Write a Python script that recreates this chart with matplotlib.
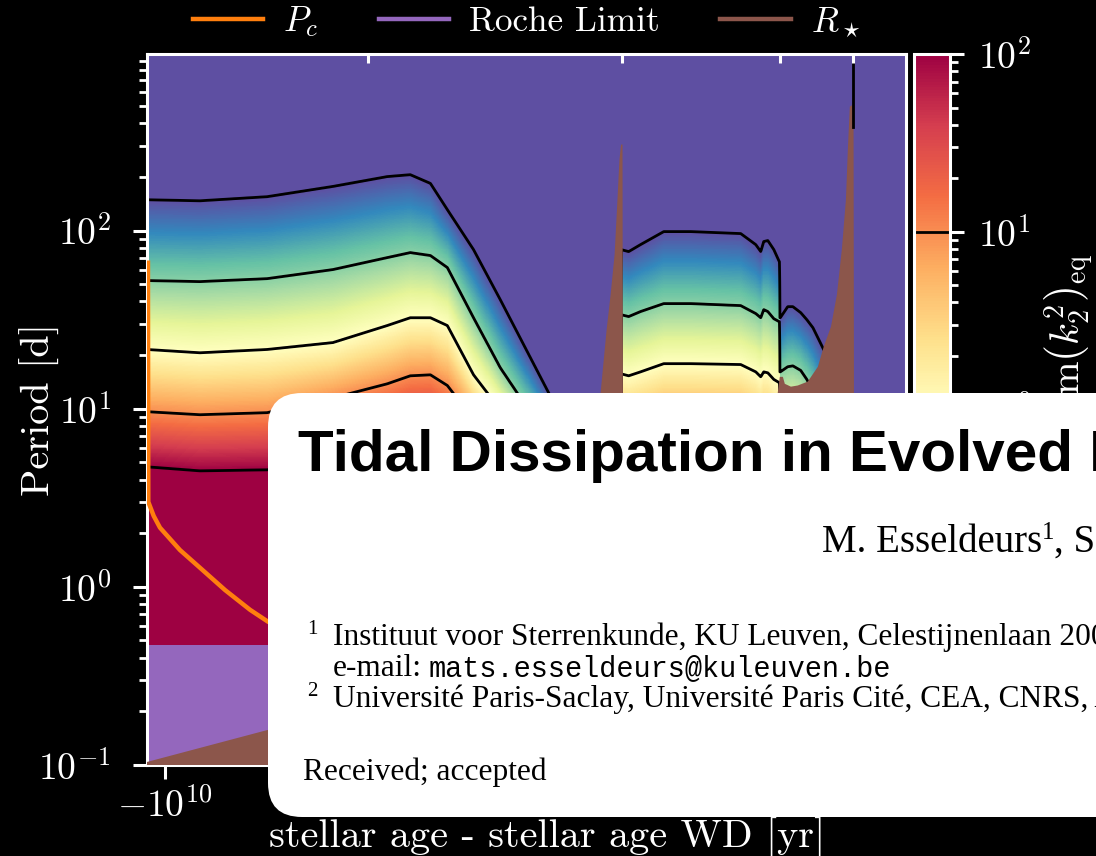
import numpy as np
import matplotlib
matplotlib.use("Agg")
import matplotlib.pyplot as plt
from matplotlib.colors import LogNorm
from matplotlib.lines import Line2D
from matplotlib.patches import FancyBboxPatch
from matplotlib.transforms import IdentityTransform
from matplotlib.ticker import FixedLocator, NullLocator

# ------------------------------------------------------------------
# Time before white-dwarf formation [yr] and orbital periods [d]
# ------------------------------------------------------------------
# log10 of Im(k2^2)/Im(k2^2)_eq along which the contours are drawn
ratio_levels = [-2, -1, 0, 1, 2]

# Main sequence / red-giant branch: period [d] where the ratio reaches each level
age_ms = [1.25e10, 6.47e9, 2.81e9, 1.24e9, 6.31e8, 4.74e8, 3.69e8, 2.99e8,
          2.16e8, 1.55e8, 8.5e7, 4.45e7]
p_ms_lvl_m2 = [149, 147, 155, 177, 201, 206, 184, 131, 78.2, 41.0, 12.3, 3.51]
p_ms_lvl_m1 = [52.4, 51.7, 53.7, 60.4, 70.5, 75.2, 72.4, 62.0, 32.4, 17.0, 6.70, 2.38]
p_ms_lvl_0 = [21.5, 20.6, 21.5, 23.5, 29.3, 32.4, 32.4, 29.3, 15.5, 9.87, 3.99, 1.42]
p_ms_lvl_p1 = [9.62, 9.25, 9.50, 11.5, 13.8, 15.3, 15.5, 13.5, 8.68, 5.17, 2.38, 0.845]
p_ms_lvl_p2 = [4.72, 4.48, 4.54, 5.17, 6.28, 6.96, 6.96, 5.88, 3.99, 2.71, 1.25, 0.443]

# Core helium burning
age_hb = [3.45e7, 3.14e7, 2.71e7, 2.03e7, 1.45e7, 7.80e6, 6.47e6, 6.08e6,
          5.86e6, 5.57e6, 5.17e6, 4.83e6]
p_hb_lvl_m2 = [78.2, 76.2, 83.4, 98.7, 98.7, 96.2, 83.4, 76.2, 86.8, 87.9, 78.2, 66.9]
p_hb_lvl_m1 = [33.7, 32.9, 35.1, 38.9, 38.9, 37.9, 34.2, 32.4, 36.0, 35.1, 32.0, 30.8]
p_hb_lvl_0 = [15.7, 15.3, 16.1, 17.9, 17.9, 17.7, 16.1, 15.1, 16.1, 15.9, 14.6, 14.0]
p_hb_lvl_p1 = [7.43, 7.24, 7.62, 8.45, 8.45, 8.34, 7.62, 7.14, 7.62, 7.52, 6.87, 6.61]
p_hb_lvl_p2 = [3.42, 3.33, 3.51, 3.89, 3.89, 3.84, 3.51, 3.29, 3.51, 3.46, 3.16, 3.04]

# Asymptotic giant branch
age_agb = [4.77e6, 4.35e6, 4.08e6, 3.70e6, 3.43e6, 3.18e6, 2.92e6, 2.54e6, 1.98e6, 1.0e6]
p_agb_lvl_m2 = [32.4, 37.4, 37.4, 34.6, 31.6, 28.5, 23.8, 17.7, 5.88, 3.08]
p_agb_lvl_m1 = [16.1, 17.2, 17.4, 16.4, 14.6, 12.5, 9.87, 7.62, 2.38, 1.42]
p_agb_lvl_0 = [8.13, 8.45, 8.56, 8.13, 7.14, 5.88, 4.54, 3.51, 1.09, 0.652]
p_agb_lvl_p1 = [3.99, 4.15, 4.20, 3.99, 3.51, 2.89, 2.23, 1.72, 0.537, 0.320]
p_agb_lvl_p2 = [1.96, 2.04, 2.06, 1.96, 1.72, 1.42, 1.09, 0.845, 0.264, 0.157]

# Start of core He burning and of the AGB [yr before WD]
phase_boundaries = [3.45e7, 4.80e6]
# Evolutionary markers on the upper axis [yr before WD]
phase_ticks = [8.0e8, 3.43e7, 4.80e6, 1.93e6]

# Critical period P_c [d]
age_pc = [1.235e10, 1.23e10, 1.15e10, 1.064e10, 8.30e9, 6.47e9, 4.74e9, 3.47e9,
          2.77e9, 1.86e9, 5.37e8, 8.5e7, 1.0e6]
p_pc = [66.0, 3.0, 2.5, 2.15, 1.61, 1.28, 0.96, 0.743, 0.636, 0.559, 0.504,
        0.472, 0.40]

# Roche limit [d]
age_roche = [1.25e10, 1.0e6]
p_roche = [0.472, 0.472]

# Stellar radius expressed as an orbital period [d]
age_rstar = [1.25e10, 2.81e9, 5.37e8, 8.5e7, 5.04e7, 4.45e7, 4.13e7, 3.93e7,
             3.74e7, 3.61e7, 3.52e7, 3.45e7, 3.39e7, 3.36e7, 5.37e6, 4.98e6,
             4.80e6, 4.62e6, 4.51e6, 4.18e6, 3.84e6, 3.39e6, 2.99e6, 2.78e6,
             2.54e6, 2.36e6, 2.22e6, 2.11e6, 2.06e6, 2.01e6, 1.92e6, 1.90e6, 1.0e6]
p_rstar = [0.104, 0.157, 0.217, 0.300, 1.42, 12.3, 27.8, 43.7, 73.3, 149, 251,
           304, 304, 0.443, 0.504, 11.2, 15.1, 15.1, 13.8, 13.3, 13.5, 14.2,
           17.2, 22.3, 28.9, 43.7, 78.2, 149, 285, 497, 510, 0.389, 0.389]

# Contour segment at the AGB tip
age_tip = [1.93e6, 1.93e6]
p_tip = [379, 912]

# ------------------------------------------------------------------
plt.rcParams.update({
    "font.family": "serif",
    "font.serif": ["cmr10"],
    "mathtext.fontset": "cm",
    "axes.formatter.use_mathtext": True,
    "axes.unicode_minus": True,
})

W, H, DPI = 1096, 856, 200
fig = plt.figure(figsize=(W / DPI, H / DPI), dpi=DPI, facecolor="black")

ax_left, ax_right, ax_top_px, ax_bot = 147, 906, 54, 765
ax_h = ax_bot - ax_top_px
ax = fig.add_axes([ax_left / W, (H - ax_bot) / H, (ax_right - ax_left) / W, ax_h / H])
cax = fig.add_axes([914 / W, (H - ax_bot) / H, 36 / W, ax_h / H])

XMIN, XMAX = -1.25e10, -1.0e6
YMIN, YMAX = 0.1, 980


def level_periods(age_nodes, rows, age_cols):
    """log10 period of each contour level at the requested ages."""
    u_nodes = -np.log10(age_nodes)
    u_cols = -np.log10(age_cols)
    return np.array([np.interp(u_cols, u_nodes, np.log10(r)) for r in rows])


ncol, nrow = 1500, 900
age_cols = 10 ** np.linspace(np.log10(-XMIN), np.log10(-XMAX), ncol)
logp_rows = np.linspace(-1.05, 3.05, nrow)

lp = np.empty((5, ncol))
ms = age_cols >= phase_boundaries[0]
hb = (age_cols < phase_boundaries[0]) & (age_cols >= phase_boundaries[1])
agb = age_cols < phase_boundaries[1]
lp[:, ms] = level_periods(age_ms, [p_ms_lvl_m2, p_ms_lvl_m1, p_ms_lvl_0,
                                   p_ms_lvl_p1, p_ms_lvl_p2], age_cols[ms])
lp[:, hb] = level_periods(age_hb, [p_hb_lvl_m2, p_hb_lvl_m1, p_hb_lvl_0,
                                   p_hb_lvl_p1, p_hb_lvl_p2], age_cols[hb])
lp[:, agb] = level_periods(age_agb, [p_agb_lvl_m2, p_agb_lvl_m1, p_agb_lvl_0,
                                     p_agb_lvl_p1, p_agb_lvl_p2], age_cols[agb])

lv = np.array(ratio_levels, dtype=float)
fp = np.concatenate(([6.0], lv[::-1], [-6.0]))
field = np.empty((nrow, ncol))
for j in range(ncol):
    xp = np.concatenate(([lp[4, j] - 1.5], lp[::-1, j], [lp[0, j] + 1.5]))
    field[:, j] = np.interp(logp_rows, xp, fp)

ratio = 10 ** field
x_cols = -age_cols
p_rows = 10 ** logp_rows

norm = LogNorm(vmin=1e-2, vmax=1e2)
mesh = ax.pcolormesh(x_cols, p_rows, ratio, cmap="Spectral_r", norm=norm,
                     shading="nearest", rasterized=True, zorder=0)
cs = ax.contour(x_cols, p_rows, ratio, levels=10.0 ** lv, colors="k",
                linewidths=1.0, zorder=1)
ax.plot(-np.array(age_tip), p_tip, color="k", lw=1.0, zorder=4)

ax.fill_between(-np.array(age_roche), 1e-3, p_roche, color="tab:purple",
                lw=0, zorder=2)
ax.fill_between(-np.array(age_rstar), 1e-3, p_rstar, color="tab:brown",
                lw=0, zorder=3)
ax.plot(-np.array(age_pc), p_pc, color="tab:orange", lw=1.6, zorder=5)

ax.set_xscale("symlog", linthresh=1e4)
ax.set_yscale("log")
ax.set_xlim(XMIN, XMAX)
ax.set_ylim(YMIN, YMAX)
ax.xaxis.set_minor_locator(NullLocator())

fs = 13.5
for s in ax.spines.values():
    s.set_color("white")
    s.set_linewidth(1.1)
ax.tick_params(axis="both", which="major", colors="white", labelsize=fs,
               length=5, width=1.1, direction="out")
ax.tick_params(axis="y", which="major", pad=8)
ax.tick_params(axis="x", which="major", pad=3)
ax.tick_params(axis="y", which="minor", colors="white", length=3, width=1.0)
ax.set_ylabel("Period [d]", color="white", fontsize=14.5)
ax.yaxis.set_label_coords((60 - ax_left) / (ax_right - ax_left), 0.5)
ax.set_xlabel("stellar age - stellar age WD [yr]", color="white", fontsize=14.5)
ax.xaxis.set_label_coords(0.527, -(818 - ax_bot) / ax_h)

# Upper axis with evolutionary markers
ax_t = ax.twiny()
ax_t.set_xscale("symlog", linthresh=1e4)
ax_t.set_xlim(XMIN, XMAX)
ax_t.xaxis.set_major_locator(FixedLocator(-np.array(phase_ticks)))
ax_t.xaxis.set_minor_locator(NullLocator())
ax_t.tick_params(axis="x", which="major", colors="white", direction="in",
                 length=3.2, width=1.1, labeltop=False)
for s in ax_t.spines.values():
    s.set_visible(False)

handles = [Line2D([], [], color="tab:orange", lw=1.6),
           Line2D([], [], color="tab:purple", lw=1.6),
           Line2D([], [], color="tab:brown", lw=1.6)]
ax.legend(handles, [r"$P_c$", "Roche Limit", r"$R_\star$"], loc="center",
          bbox_to_anchor=(0.5, 1 + (ax_top_px - 22) / ax_h), ncol=3,
          frameon=False, fontsize=12.7, handlelength=2.0, handletextpad=0.57,
          columnspacing=1.7, labelcolor="white", borderaxespad=0)

cb = fig.colorbar(mesh, cax=cax)
cb.add_lines(cs)
cb.outline.set_edgecolor("white")
cb.outline.set_linewidth(1.1)
cax.tick_params(which="major", colors="white", labelsize=fs, length=5,
                width=1.1, pad=5)
cax.tick_params(which="minor", colors="white", length=3, width=1.0)
cb.set_label(r"$\mathrm{Im}\left(k_2^2\right)\,/\,\mathrm{Im}\left(k_2^2\right)_{\mathrm{eq}}$",
             color="white", fontsize=14.5, labelpad=-3)

# Paper header card
ident = IdentityTransform()
card = FancyBboxPatch((268, H - 817), 1000, 817 - 393,
                      boxstyle="round,pad=0,rounding_size=34",
                      transform=ident, facecolor="white", edgecolor="none",
                      zorder=10)
fig.add_artist(card)


def card_text(x, y, s, **kw):
    fig.text(x, H - y, s, transform=ident, va="baseline", ha="left",
             color="black", zorder=11, **kw)


card_text(298, 471, "Tidal Dissipation in Evolved Low and Intermediate Mass Stars",
          family="Liberation Sans", weight="bold", fontsize=21)
card_text(822, 552, "M. Esseldeurs", family="Liberation Serif", fontsize=14)
card_text(1042, 539, "1", family="Liberation Serif", fontsize=9)
card_text(1054, 552, ", S. Mathis", family="Liberation Serif", fontsize=14)
card_text(307, 634, "1", family="Liberation Serif", fontsize=7.5)
card_text(333, 645, "Instituut voor Sterrenkunde, KU Leuven, Celestijnenlaan 200D, "
          "B-3001 Leuven, Belgium", family="Liberation Serif", fontsize=11.3)
card_text(333, 676, "e-mail:", family="Liberation Serif", fontsize=11.3)
card_text(429, 676, "mats.esseldeurs@kuleuven.be", family="Liberation Mono",
          fontsize=10.3)
card_text(307, 696, "2", family="Liberation Serif", fontsize=7.5)
card_text(333, 707, "Universit\u00e9 Paris-Saclay, Universit\u00e9 Paris Cit\u00e9, CEA, "
          "CNRS, AIM, 91191 Gif-sur-Yvette, France", family="Liberation Serif",
          fontsize=11.3)
card_text(303, 780, "Received; accepted", family="Liberation Serif", fontsize=11.3)

fig.savefig("out.png", dpi=DPI, facecolor="black")
